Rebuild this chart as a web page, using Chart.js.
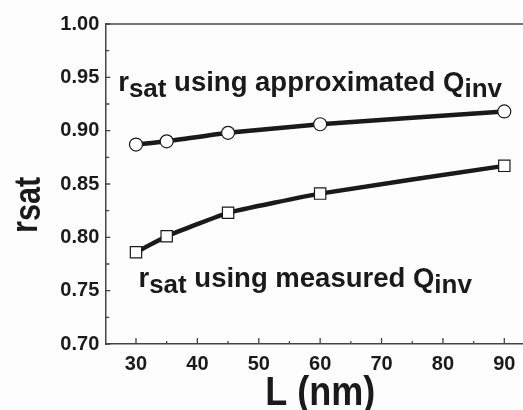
<!DOCTYPE html>
<html>
<head>
<meta charset="utf-8">
<script src="https://cdn.jsdelivr.net/npm/chart.js@4/dist/chart.umd.min.js"></script>
<style>
  html, body { margin: 0; padding: 0; background: #fdfdfd; overflow: hidden; }
  #wrap { width: 545px; height: 410px; }
</style>
</head>
<body>
<div id="wrap"><canvas id="c" width="545" height="410"></canvas></div>
<script>
// ---- data ----
const lengths = [30, 35, 45, 60, 90];                      // L (nm)
const rsatApproximated = [0.887, 0.890, 0.898, 0.906, 0.918];
const rsatMeasured     = [0.786, 0.801, 0.823, 0.841, 0.867];

const xMajorTicks = [30, 40, 50, 60, 70, 80, 90];
const xMinorTicks = [35, 45, 55, 65, 75, 85];
const yMajorTicks = [0.70, 0.75, 0.80, 0.85, 0.90, 0.95, 1.00];
const yMinorTicks = [0.725, 0.775, 0.825, 0.875, 0.925, 0.975];

const xTitle = 'L (nm)';
const yTitleParts = [['r', false], ['sat', true]];
// annotation labels: [text, isSubscript]; anchor (L, rsat) of left baseline
const label1Parts = [['r', false], ['sat', true], [' using approximated ', false], ['Q', false], ['inv', true]];
const label1Anchor = [27.1, 0.9375];
const label2Parts = [['r', false], ['sat', true], [' using measured ', false], ['Q', false], ['inv', true]];
const label2Anchor = [30.4, 0.7537];

const INK = '#1a1a1a';
const AXIS = '#444';
const FONT = '"Liberation Sans", Arial, Helvetica, sans-serif';

function pts(xs, ys) { return xs.map((x, i) => ({ x: x, y: ys[i] })); }

function drawParts(ctx, parts, x, y, mainSize, subSize, subOffset) {
  let cx = x;
  parts.forEach(([p, sub]) => {
    ctx.font = 'bold ' + (sub ? subSize : mainSize) + 'px ' + FONT;
    ctx.fillText(p, cx, y + (sub ? subOffset : 0));
    cx += ctx.measureText(p).width;
  });
}

const decor = {
  id: 'decor',
  beforeDatasetsDraw(chart) {
    const ctx = chart.ctx, a = chart.chartArea;
    const xs = chart.scales.x, ys = chart.scales.y;
    ctx.save();
    ctx.strokeStyle = AXIS;
    ctx.lineWidth = 1.5;
    ctx.beginPath();
    ctx.moveTo(a.left, a.top); ctx.lineTo(a.right + 20, a.top);
    ctx.stroke();
    ctx.lineWidth = 1.3;
    ctx.beginPath();
    xMajorTicks.forEach(v => { const p = xs.getPixelForValue(v); ctx.moveTo(p, a.bottom); ctx.lineTo(p, a.bottom - 6); });
    xMinorTicks.forEach(v => { const p = xs.getPixelForValue(v); ctx.moveTo(p, a.bottom); ctx.lineTo(p, a.bottom - 3); });
    yMajorTicks.forEach(v => { const p = ys.getPixelForValue(v); ctx.moveTo(a.left, p); ctx.lineTo(a.left + 5, p); });
    yMinorTicks.forEach(v => { const p = ys.getPixelForValue(v); ctx.moveTo(a.left, p); ctx.lineTo(a.left + 4, p); });
    ctx.stroke();
    ctx.restore();
  },
  afterDraw(chart) {
    const ctx = chart.ctx, a = chart.chartArea;
    const xs = chart.scales.x, ys = chart.scales.y;
    ctx.save();
    ctx.fillStyle = INK;
    ctx.textBaseline = 'alphabetic';
    ctx.textAlign = 'left';
    // annotations
    drawParts(ctx, label1Parts, xs.getPixelForValue(label1Anchor[0]), ys.getPixelForValue(label1Anchor[1]), 27.5, 26, 6);
    drawParts(ctx, label2Parts, xs.getPixelForValue(label2Anchor[0]), ys.getPixelForValue(label2Anchor[1]), 27.5, 26, 6);
    // x title
    ctx.save();
    ctx.translate((xs.getPixelForValue(25) + xs.getPixelForValue(95)) / 2, a.bottom + 61);
    ctx.scale(0.9, 1);
    ctx.font = 'bold 40px ' + FONT;
    ctx.textAlign = 'center';
    ctx.fillText(xTitle, 0, 0);
    ctx.restore();
    // y title (rotated)
    ctx.save();
    ctx.translate(37, a.top + 209);
    ctx.rotate(-Math.PI / 2);
    ctx.scale(0.85, 1);
    drawParts(ctx, yTitleParts, 0, 0, 36, 36, 3);
    ctx.restore();
    ctx.restore();
  }
};

const tickFont = { family: FONT, size: 20, weight: 'bold' };

new Chart(document.getElementById('c'), {
  type: 'line',
  data: {
    datasets: [
      {
        label: 'approximated',
        data: pts(lengths, rsatApproximated),
        borderColor: INK, borderWidth: 4.5,
        tension: 0.12,
        pointStyle: 'circle', pointRadius: 6.5,
        pointBackgroundColor: '#fff', pointBorderColor: INK, pointBorderWidth: 1.2
      },
      {
        label: 'measured',
        data: pts(lengths, rsatMeasured),
        borderColor: INK, borderWidth: 4.5,
        tension: 0.12,
        pointStyle: 'rect', pointRadius: 8,
        pointBackgroundColor: '#fff', pointBorderColor: INK, pointBorderWidth: 1.2
      }
    ]
  },
  options: {
    responsive: false,
    animation: false,
    layout: { padding: { top: 24, right: 10, left: 0, bottom: 0 } },
    plugins: { legend: { display: false }, tooltip: { enabled: false } },
    scales: {
      x: {
        type: 'linear', min: 25, max: 95,
        afterBuildTicks: s => { s.ticks = xMajorTicks.map(v => ({ value: v })); },
        afterFit: s => { s.height = 66; },
        grid: { display: false, drawTicks: false },
        border: { display: true, color: AXIS, width: 1.5 },
        ticks: { color: INK, font: tickFont, padding: 8, maxRotation: 0, autoSkip: false }
      },
      y: {
        type: 'linear', min: 0.70, max: 1.00,
        afterBuildTicks: s => { s.ticks = yMajorTicks.map(v => ({ value: v })); },
        afterFit: s => { s.width = 105.3; },
        grid: { display: false, drawTicks: false },
        border: { display: true, color: AXIS, width: 1.5 },
        ticks: { color: INK, font: tickFont, padding: 6, autoSkip: false, callback: v => v.toFixed(2) }
      }
    }
  },
  plugins: [decor]
});
</script>
</body>
</html>
